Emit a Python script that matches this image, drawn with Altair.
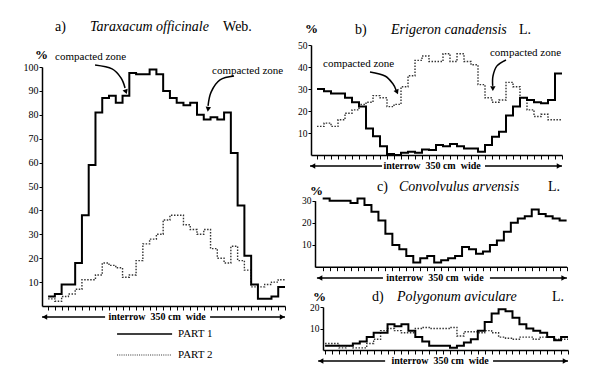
import altair as alt
import pandas as pd

SERIF = "Liberation Serif"

# ---------------- data (percent per 10-cm strip across the 350 cm interrow) -------------
a_part1 = [4, 5, 9, 9, 18, 38, 59, 81, 87, 88, 85, 88, 97.5, 97, 97, 99, 97, 90, 87, 85,
           84, 85, 80, 78, 79, 78, 81, 64, 42, 21, 9, 3, 3, 4, 8]
a_part2 = [3, 2, 4, 5, 7, 11, 11, 13, 18, 17, 16, 12, 13, 19, 26, 28, 30, 36, 38, 38,
           34, 32, 30, 32, 24, 20, 18, 25, 19, 15, 8, 8, 9, 10, 11]
b_part1 = [30, 29, 28, 28, 26, 24, 22, 12, 8.5, 4, 0.5, 0, 1, 1.5, 1, 2.5, 2.3, 4.5, 4, 5,
           4, 3, 3, 1.5, 4.5, 8.3, 10.6, 18, 22, 26, 25, 24, 23.5, 25, 37]
b_part2 = [13, 14.5, 13, 16, 19, 20.5, 23, 24, 27, 26, 22, 23, 31, 36, 43, 45, 42.5, 42.5, 46,
           42.5, 46, 42.5, 41, 32, 26, 24, 25, 33, 31, 26, 20.5, 17.5, 18.5, 16, 16]
c_part1 = [31, 30, 30, 30, 29, 31, 28, 25, 21, 15, 10, 8, 5, 2, 4, 5, 2, 3, 4, 5,
           9, 8, 6, 7, 10, 12, 16, 20, 22, 23, 26, 24, 23, 22, 21]
d_part1 = [2, 2, 2, 2, 3, 4, 6, 8, 8, 12, 11, 12, 9, 6, 4, 2, 2, 2, 1, 2,
           3.5, 5, 9, 13, 17, 19, 18, 15, 12, 10, 9, 8, 6, 4.5, 6]
d_part2 = [3, 3, 1, 2, 1, 1, 3, 5, 9, 10, 9, 8, 8, 10, 10.5, 10, 10, 10, 10.5, 6.5,
           8.5, 8.5, 8, 9, 8, 6, 5.5, 5, 6, 6, 5, 6, 6, 5, 5]

strip_ticks = list(range(36))
interrow_label = "interrow\u00a0\u00a0350 cm\u00a0\u00a0wide"
zone_label = "compacted zone"


def step_df(vals):
    return pd.DataFrame({"x": list(range(len(vals) + 1)), "y": list(vals) + [vals[-1]]})


def encodings(p):
    x_axis = alt.Axis(orient="bottom", offset=p["xoff"], values=strip_ticks, labels=False,
                      tickSize=4, tickWidth=1, tickColor="black", domainColor="black",
                      domainWidth=1.5, grid=False, title=None)
    y_axis = alt.Axis(orient="left", offset=p["yoff"], values=p["yvals"], tickSize=3,
                      tickWidth=1, tickColor="black", domainColor="black", domainWidth=1.5,
                      grid=False, title=None, labelFont=SERIF, labelFontSize=p["lab"],
                      labelColor="black", labelPadding=1)
    X = alt.X("x:Q", scale=alt.Scale(domain=p["xdom"], range=p["xrng"], nice=False, zero=False),
              axis=x_axis)
    Y = alt.Y("y:Q", scale=alt.Scale(domain=p["ydom"], range=p["yrng"], nice=False, zero=False),
              axis=y_axis)
    return X, Y


def panel(p):
    X, Y = encodings(p)
    layers = []
    if p.get("part2") is not None:
        layers.append(alt.Chart(step_df(p["part2"])).mark_line(
            interpolate="step-after", color="#333", strokeWidth=1.4, strokeDash=[1.5, 1.5]
        ).encode(x=X, y=Y))
    layers.append(alt.Chart(step_df(p["part1"])).mark_line(
        interpolate="step-after", color="black", strokeWidth=2).encode(x=X, y=Y))

    # interrow double arrow
    v = p["arrow_v"]
    segs = pd.DataFrame({"x": p["segs"][0], "x2": p["segs"][1], "y": [v, v]})
    layers.append(alt.Chart(segs).mark_rule(color="black", strokeWidth=1.6).encode(
        x=X, x2="x2:Q", y=Y))
    heads = pd.DataFrame({"x": p["heads"][0], "y": p["heads"][1], "s": p["heads"][2],
                          "ang": p["heads"][3]})
    layers.append(alt.Chart(heads).mark_point(filled=True, color="black", opacity=1, size=32).encode(
        x=X, y=Y, shape=alt.Shape("s:N", scale=None), angle=alt.Angle("ang:Q", scale=None)))
    layers.append(alt.Chart(pd.DataFrame({"x": [p["arrow_text_x"]], "y": [v], "t": [interrow_label]}))
                  .mark_text(align="center", baseline="middle", font=SERIF, fontSize=10,
                             fontWeight="bold", color="black").encode(x=X, y=Y, text="t:N"))

    # titles
    tv = p["title_v"]
    layers.append(alt.Chart(pd.DataFrame({"x": p["title_plain_x"], "y": [tv, tv], "t": p["title_plain"]}))
                  .mark_text(align="left", baseline="middle", font=SERIF, fontSize=14, color="black")
                  .encode(x=X, y=Y, text="t:N"))
    layers.append(alt.Chart(pd.DataFrame({"x": [p["title_italic_x"]], "y": [tv], "t": [p["title_italic"]]}))
                  .mark_text(align="left", baseline="middle", font=SERIF, fontSize=14,
                             fontStyle="italic", color="black")
                  .encode(x=X, y=Y, text="t:N"))
    layers.append(alt.Chart(pd.DataFrame({"x": [p["pct"][0]], "y": [p["pct"][1]], "t": ["%"]}))
                  .mark_text(align="left", baseline="middle", font=SERIF, fontSize=13,
                             fontWeight="bold", color="black")
                  .encode(x=X, y=Y, text="t:N"))

    # compacted-zone annotations
    if p.get("zones"):
        zx, zy = p["zones"]
        layers.append(alt.Chart(pd.DataFrame({"x": zx, "y": zy, "t": [zone_label] * len(zx)}))
                      .mark_text(align="left", baseline="middle", font=SERIF, fontSize=11, color="black")
                      .encode(x=X, y=Y, text="t:N"))
        cx, cy, cg, ck = p["curves"]
        layers.append(alt.Chart(pd.DataFrame({"x": cx, "y": cy, "g": cg, "k": ck}))
                      .mark_line(interpolate="cardinal", color="black", strokeWidth=1.5)
                      .encode(x=X, y=Y, detail="g:N", order="k:Q"))
        hx, hy, ha = p["zone_heads"]
        layers.append(alt.Chart(pd.DataFrame({"x": hx, "y": hy, "ang": ha}))
                      .mark_point(filled=True, color="black", opacity=1, size=30, shape="triangle-down")
                      .encode(x=X, y=Y, angle=alt.Angle("ang:Q", scale=None)))

    # legend (panel a only)
    if p.get("legend"):
        lx1, lx2, lv1, lv2, ltx = p["legend"]
        layers.append(alt.Chart(pd.DataFrame({"x": [lx1], "x2": [lx2], "y": [lv1]}))
                      .mark_rule(color="black", strokeWidth=1.6).encode(x=X, x2="x2:Q", y=Y))
        layers.append(alt.Chart(pd.DataFrame({"x": [lx1], "x2": [lx2], "y": [lv2]}))
                      .mark_rule(color="#333", strokeWidth=1.2, strokeDash=[1, 1.2])
                      .encode(x=X, x2="x2:Q", y=Y))
        layers.append(alt.Chart(pd.DataFrame({"x": [ltx, ltx], "y": [lv1, lv2], "t": ["PART 1", "PART 2"]}))
                      .mark_text(align="left", baseline="middle", font=SERIF, fontSize=11, color="black")
                      .encode(x=X, y=Y, text="t:N"))
    return alt.layer(*layers)


pa = dict(part1=a_part1, part2=a_part2,
          xdom=[-0.9, 35], xrng=[34, 277], xoff=-76,
          ydom=[0, 100], yrng=[298, 59], yoff=-34, yvals=list(range(10, 101, 10)), lab=10,
          arrow_v=-4.6, segs=([-0.89, 23.93], [8.42, 35.0]),
          heads=([-0.5, 34.6], [-4.6, -4.6], ["triangle-left", "triangle-right"], [0, 0]),
          arrow_text_x=16.1,
          title_v=116.7, title_plain_x=[1.03, 25.85], title_plain=["a)", "Web."],
          title_italic_x=6.2, title_italic="Taraxacum officinale",
          pct=(-1.92, 105.0),
          zones=([1.03, 24.22], [104.2, 98.3]),
          curves=([6.94, 9.45, 10.78, 11.37, 27.47, 25.4, 24.08, 23.63],
                  [100.8, 99.2, 95.4, 91.2, 96.2, 94.6, 89.5, 83.7],
                  [1, 1, 1, 1, 2, 2, 2, 2], [0, 1, 2, 3, 0, 1, 2, 3]),
          zone_heads=([11.5, 23.63], [89.6, 82.3], [340, 8]),
          legend=(10.19, 18.32, -11.7, -20.5, 19.2))

pb = dict(part1=b_part1, part2=b_part2,
          xdom=[-0.86, 35], xrng=[303, 554], xoff=-227,
          ydom=[0, 50], yrng=[147, 37], yoff=-303, yvals=[10, 20, 30, 40, 50], lab=9.5,
          arrow_v=-5.0, segs=([-1.0, 24.0], [9.29, 35.0]),
          heads=([-0.6, 34.6], [-5.0, -5.0], ["triangle-left", "triangle-right"], [0, 0]),
          arrow_text_x=16.43,
          title_v=56.8, title_plain_x=[5.43, 28.86], title_plain=["b)", "L."],
          title_italic_x=10.57, title_italic="Erigeron canadensis",
          pct=(-1.71, 57.3),
          zones=([0.86, 24.71], [41.4, 46.4]),
          curves=([7.57, 9.71, 10.86, 11.29, 27.0, 25.71, 25.14, 25.1],
                  [37.7, 35.9, 32.3, 29.5, 43.2, 40.5, 35.9, 31.4],
                  [1, 1, 1, 1, 2, 2, 2, 2], [0, 1, 2, 3, 0, 1, 2, 3]),
          zone_heads=([11.43, 25.12], [28.6, 30.2], [336, 0]))

pc = dict(part1=c_part1, part2=None,
          xdom=[-1.1, 35], xrng=[307, 558.6], xoff=-115.3,
          ydom=[0, 30], yrng=[259, 192.7], yoff=-307, yvals=[10, 20, 30], lab=9.5,
          arrow_v=-4.98, segs=([-0.82, 24.0], [8.65, 35.05]),
          heads=([-0.4, 34.6], [-4.98, -4.98], ["triangle-left", "triangle-right"], [0, 0]),
          arrow_text_x=16.11,
          title_v=36.2, title_plain_x=[7.79, 32.32], title_plain=["c)", "L."],
          title_italic_x=10.95, title_italic="Convolvulus arvensis",
          pct=(-1.82, 34.4))

pd_ = dict(part1=d_part1, part2=d_part2,
           xdom=[-0.3, 35], xrng=[315, 560], xoff=-32,
           ydom=[0, 20], yrng=[342, 299], yoff=-315, yvals=[10, 20], lab=9.5,
           arrow_v=-5.1, segs=([-1.0, 24.2], [8.65, 35.0]),
           heads=([-0.6, 34.6], [-5.1, -5.1], ["triangle-left", "triangle-right"], [0, 0]),
           arrow_text_x=16.57,
           title_v=24.65, title_plain_x=[6.77, 32.7], title_plain=["d)", "L."],
           title_italic_x=10.37, title_italic="Polygonum aviculare",
           pct=(-1.73, 24.65))

chart = alt.layer(panel(pa), panel(pb), panel(pc), panel(pd_)).resolve_scale(
    x="independent", y="independent"
).properties(
    width=584, height=374, padding=0, autosize=alt.AutoSizeParams(type="none"),
    background="white",
).configure_view(strokeWidth=0)

chart.save("out.html", embed_options={"renderer": "svg", "actions": False})
